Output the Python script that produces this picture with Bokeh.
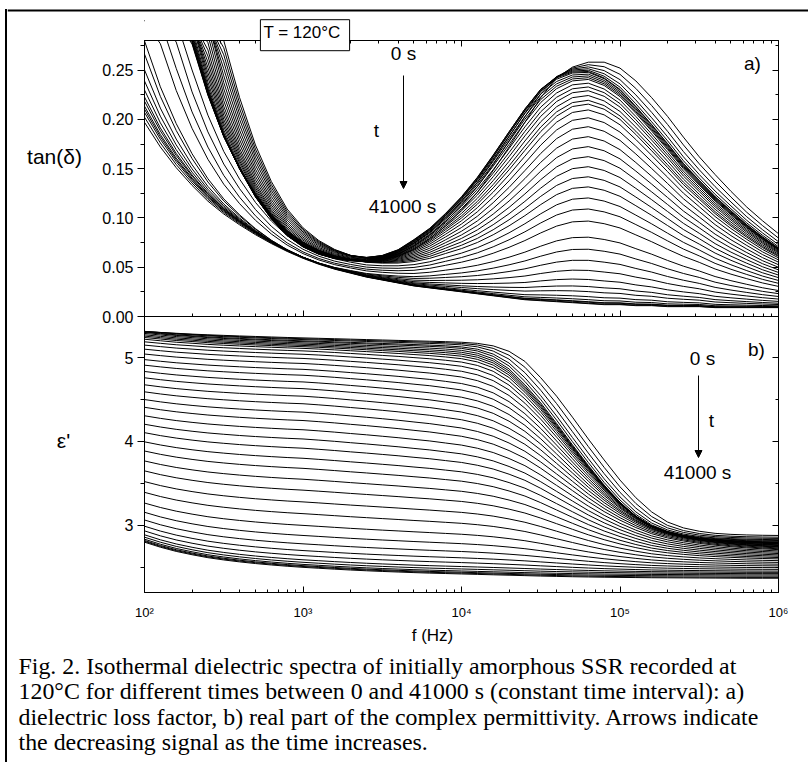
import numpy as np
from bokeh.plotting import figure
from bokeh.models import (Range1d, LinearAxis, LogAxis, SingleIntervalTicker, LogTicker,
                          Label, Arrow, NormalHead, CustomJSTickFormatter, PrintfTickFormatter,
                          Div, Spacer, BoxAnnotation, Span)
from bokeh.layouts import column, row
from bokeh.embed import file_html
from bokeh.resources import INLINE

# ---------------- data ----------------
LOG_F = [2.0, 2.1, 2.2, 2.3, 2.4, 2.5, 2.6, 2.7, 2.8, 2.9,
         3.0, 3.1, 3.2, 3.3, 3.4, 3.5, 3.6, 3.7, 3.8, 3.9,
         4.0, 4.1, 4.2, 4.3, 4.4, 4.5, 4.6, 4.7, 4.8, 4.9,
         5.0, 5.1, 5.2, 5.3, 5.4, 5.5, 5.6, 5.7, 5.8, 5.9,
         6.0, 6.1]

TAN_FINAL = [0.197, 0.172, 0.151, 0.133, 0.117, 0.104, 0.093, 0.083, 0.074, 0.066,
             0.059, 0.053, 0.048, 0.044, 0.040, 0.037, 0.034, 0.031, 0.029, 0.027,
             0.025, 0.023, 0.021, 0.019, 0.017, 0.016, 0.015, 0.014, 0.013, 0.012,
             0.012, 0.011, 0.011, 0.010, 0.010, 0.010, 0.009, 0.009, 0.009, 0.009,
             0.009, 0.009]
TAN_COND_INIT = [0.935, 0.735, 0.578, 0.454, 0.357, 0.279, 0.2205, 0.172, 0.134, 0.105,
                 0.085, 0.070, 0.059, 0.050, 0.043, 0.037, 0.032, 0.028, 0.024, 0.021,
                 0.018, 0.015, 0.013, 0.011, 0.009, 0.008, 0.007, 0.006, 0.005, 0.004,
                 0.004, 0.003, 0.003, 0.003, 0.002, 0.002, 0.002, 0.002, 0.001, 0.001,
                 0.001, 0.001]
TAN_PEAK_INIT = [0.000, 0.000, 0.0005, 0.0007, 0.001, 0.001, 0.0015, 0.002, 0.003, 0.004,
                 0.005, 0.007, 0.009, 0.012, 0.016, 0.021, 0.029, 0.040, 0.055, 0.071,
                 0.090, 0.111, 0.135, 0.161, 0.188, 0.214, 0.235, 0.247, 0.253, 0.254,
                 0.248, 0.236, 0.219, 0.200, 0.180, 0.160, 0.142, 0.125, 0.110, 0.096,
                 0.083, 0.071]
TAN_PEAK_LATE = [0.000, 0.000, 0.005, 0.008, 0.012, 0.016, 0.021, 0.027, 0.034, 0.042,
                 0.050, 0.064, 0.080, 0.100, 0.120, 0.148, 0.180, 0.220, 0.270, 0.330,
                 0.390, 0.460, 0.540, 0.630, 0.730, 0.830, 0.920, 0.980, 1.000, 0.980,
                 0.930, 0.860, 0.780, 0.700, 0.620, 0.550, 0.480, 0.420, 0.370, 0.320,
                 0.280, 0.240]

EPS_INIT = [5.310, 5.300, 5.290, 5.280, 5.272, 5.265, 5.258, 5.252, 5.246, 5.240,
            5.235, 5.230, 5.225, 5.220, 5.215, 5.210, 5.205, 5.200, 5.195, 5.190,
            5.183, 5.170, 5.140, 5.075, 4.955, 4.760, 4.540, 4.290, 4.030, 3.780,
            3.540, 3.330, 3.160, 3.040, 2.970, 2.930, 2.905, 2.893, 2.886, 2.882,
            2.880, 2.878]
EPS_FINAL = [2.800, 2.740, 2.690, 2.650, 2.615, 2.588, 2.565, 2.545, 2.528, 2.513,
             2.500, 2.489, 2.478, 2.468, 2.459, 2.451, 2.444, 2.437, 2.431, 2.426,
             2.421, 2.416, 2.411, 2.406, 2.401, 2.396, 2.392, 2.388, 2.385, 2.382,
             2.380, 2.378, 2.376, 2.375, 2.374, 2.373, 2.372, 2.371, 2.370, 2.370,
             2.370, 2.370]
EPS_STEP_LATE = [0.899, 0.921, 0.939, 0.953, 0.965, 0.974, 0.981, 0.987, 0.992, 0.996,
                 1.000, 0.998, 0.995, 0.990, 0.985, 0.978, 0.970, 0.960, 0.950, 0.935,
                 0.920, 0.895, 0.860, 0.810, 0.750, 0.670, 0.580, 0.490, 0.400, 0.320,
                 0.250, 0.190, 0.140, 0.105, 0.080, 0.060, 0.045, 0.033, 0.023, 0.015,
                 0.008, 0.003]

TIMES_S = [1000 * k for k in range(42)]
TAN_AT_50KHZ = [0.253, 0.252, 0.251, 0.250, 0.249, 0.248, 0.247, 0.245, 0.243, 0.241,
                0.239, 0.235, 0.231, 0.227, 0.222, 0.217, 0.213, 0.207, 0.199, 0.190,
                0.180, 0.170, 0.160, 0.150, 0.140, 0.130, 0.119, 0.108, 0.096, 0.080,
                0.068, 0.057, 0.047, 0.038, 0.031, 0.026, 0.021, 0.018, 0.016, 0.0155,
                0.0145, 0.014]
COND_LEVEL = [1.000, 0.969, 0.939, 0.910, 0.882, 0.854, 0.828, 0.802, 0.777, 0.753,
              0.730, 0.707, 0.685, 0.664, 0.643, 0.623, 0.604, 0.585, 0.567, 0.550,
              0.533, 0.516, 0.500, 0.485, 0.470, 0.455, 0.384, 0.322, 0.263, 0.207,
              0.136, 0.112, 0.086, 0.066, 0.050, 0.038, 0.029, 0.021, 0.016, 0.012,
              0.006, 0.000]
PEAK_SHIFT = [0.0, 0.3, 0.55, 0.75, 0.9, 1.0, 1.0, 1.0, 1.0, 1.0,
              1.0, 1.0, 1.0, 1.0, 1.0, 1.0, 1.0, 1.0, 1.0, 1.0,
              1.0, 1.0, 1.0, 1.0, 1.0, 1.0, 1.0, 1.0, 1.0, 1.0,
              1.0, 1.0, 1.0, 1.0, 1.0, 1.0, 1.0, 1.0, 1.0, 1.0,
              1.0, 1.0]
BROADENING = [0.00, 0.00, 0.02, 0.05, 0.08, 0.12, 0.16, 0.20, 0.25, 0.30,
              0.36, 0.42, 0.48, 0.54, 0.60, 0.66, 0.72, 0.78, 0.83, 0.88,
              0.92, 0.96, 0.98, 1.00, 1.00, 1.00, 1.00, 1.00, 1.00, 1.00,
              1.00, 1.00, 1.00, 1.00, 1.00, 1.00, 1.00, 1.00, 1.00, 1.00,
              1.00, 1.00]
EPS_AT_1KHZ = [5.235, 5.225, 5.215, 5.200, 5.190, 5.175, 5.160, 5.145, 5.130, 5.110,
               5.080, 5.040, 4.990, 4.930, 4.860, 4.790, 4.710, 4.630, 4.540, 4.450,
               4.350, 4.250, 4.140, 4.030, 3.920, 3.800, 3.680, 3.550, 3.420, 3.280,
               3.140, 3.000, 2.880, 2.780, 2.700, 2.640, 2.590, 2.560, 2.535, 2.520,
               2.510, 2.500]
EPS_AT_1MHZ = [2.880, 2.860, 2.845, 2.830, 2.820, 2.810, 2.800, 2.795, 2.790, 2.785,
               2.780, 2.775, 2.770, 2.760, 2.755, 2.750, 2.740, 2.735, 2.730, 2.720,
               2.710, 2.700, 2.685, 2.670, 2.655, 2.640, 2.625, 2.610, 2.595, 2.575,
               2.555, 2.535, 2.515, 2.495, 2.475, 2.455, 2.440, 2.425, 2.410, 2.395,
               2.380, 2.370]

X_TICK_LABELS = {2: "10\u00b2", 3: "10\u00b3", 4: "10\u2074", 5: "10\u2075", 6: "10\u2076"}
CAPTION = ["Fig. 2. Isothermal dielectric spectra of initially amorphous SSR recorded at",
           "120\u00b0C for different times between 0 and 41000 s (constant time interval): a)",
           "dielectric loss factor, b) real part of the complex permittivity. Arrows indicate",
           "the decreasing signal as the time increases."]

for arr in (TAN_FINAL, TAN_COND_INIT, TAN_PEAK_INIT, TAN_PEAK_LATE, EPS_INIT, EPS_FINAL, EPS_STEP_LATE):
    assert len(arr) == len(LOG_F)
for arr in (TAN_AT_50KHZ, COND_LEVEL, PEAK_SHIFT, BROADENING, EPS_AT_1KHZ, EPS_AT_1MHZ):
    assert len(arr) == len(TIMES_S)

# ---------------- geometry (page pixels) ----------------
FX0, FX1 = 144, 778                 # panel left / right
FY_TOP, FY_MID, FY_BOT = 40, 316, 592
TAN_RANGE = (0.0, 0.28)
EPS_RANGE = (2.2, 5.49)
CX0, CY0 = 7, 0                     # canvas origin on the page
CX1, CY1 = 808, 762
FIG_W, FIG_H = CX1 - CX0, CY1 - CY0


def fx(px):
    return 10 ** (2 + 4 * (px - FX0) / (FX1 - FX0))


def fy_tan(py):
    return TAN_RANGE[0] + (TAN_RANGE[1] - TAN_RANGE[0]) * (FY_MID - py) / (FY_MID - FY_TOP)


def fy_eps(py):
    return EPS_RANGE[0] + (EPS_RANGE[1] - EPS_RANGE[0]) * (FY_BOT - py) / (FY_BOT - FY_MID)


# ---------------- build the curve family ----------------
N = len(LOG_F) - 1
freq = 10 ** np.array(LOG_F[:N])
tf = np.array(TAN_FINAL); tc = np.array(TAN_COND_INIT); tp = np.array(TAN_PEAK_INIT)
tl = np.array(TAN_PEAK_LATE) * tp.max()
ei = np.array(EPS_INIT); ef = np.array(EPS_FINAL); el = np.array(EPS_STEP_LATE)
i50k = LOG_F.index(4.7); i1k = LOG_F.index(3.0); i1M = LOG_F.index(6.0)

d_all = ei - ef
d_hf = d_all[i1M]
step = (d_all - d_hf) / (d_all[i1k] - d_hf)
F = tf[:N]; C = tc[:N]
tan_cap = fy_tan(20)      # values beyond the top of panel a) end under the white mask

tan_xs, tan_ys, eps_xs, eps_ys = [], [], [], []
for v, c, m, b, e1k, e1m in zip(TAN_AT_50KHZ, COND_LEVEL, PEAK_SHIFT, BROADENING,
                                EPS_AT_1KHZ, EPS_AT_1MHZ):
    pk = (1 - b) * ((1 - m) * tp[:N] + m * tp[1:N + 1]) + b * tl[:N]
    frac = (v - F[i50k] - c * C[i50k]) / (pk[i50k] - F[i50k])
    frac = min(max(frac, 0.0), 1.05)
    tan_xs.append(freq)
    tan_ys.append(np.minimum((1 - frac) * F + frac * pk + c * C, tan_cap))

    sk = (1 - b) * ((1 - m) * step[:N] + m * step[1:N + 1]) + b * el[:N]
    h = (e1m - ef[i1M]) / d_hf
    amp = (e1k - ef[i1k] - h * d_hf) / sk[i1k]
    eps_xs.append(freq)
    eps_ys.append(ef[:N] + h * d_hf + amp * sk)

SANS = "Liberation Sans"
SERIF = "Liberation Serif"
empty_fmt = CustomJSTickFormatter(code="return '';")
log_fmt = CustomJSTickFormatter(args=dict(labels={str(k): v for k, v in X_TICK_LABELS.items()}),
                                code="const e = Math.round(Math.log10(tick)); return labels[String(e)] || '';")

# the plotting frame covers the whole canvas; the two panels are drawn with fixed-location axes
p = figure(width=FIG_W, height=FIG_H, x_axis_type="log", title=None,
           x_range=Range1d(fx(CX0), fx(CX1)), y_range=Range1d(fy_eps(CY1), fy_eps(CY0)),
           output_backend="svg", toolbar_location=None,
           x_axis_location=None, y_axis_location=None,
           min_border_left=0, min_border_right=0, min_border_top=0, min_border_bottom=0)
p.extra_y_ranges = {"tan": Range1d(fy_tan(CY1), fy_tan(CY0))}
p.grid.grid_line_color = None
p.outline_line_color = None
p.background_fill_color = "white"
p.border_fill_color = "white"


def style_axis(ax, inward, labels=True, size="16px"):
    ax.axis_line_color = "black"
    ax.axis_line_width = 1
    ax.major_tick_line_color = "black"
    ax.minor_tick_line_color = "black"
    if inward:
        ax.major_tick_in, ax.major_tick_out = 6, 0
        ax.minor_tick_in, ax.minor_tick_out = 3, 0
    else:
        ax.major_tick_in, ax.major_tick_out = 0, 7
        ax.minor_tick_in, ax.minor_tick_out = 0, 4
    ax.major_label_text_font = SANS
    ax.major_label_text_font_size = size
    ax.major_label_text_color = "black"
    if labels:
        ax.major_label_standoff = 4
    else:
        ax.formatter = empty_fmt
        ax.major_label_standoff = 0


X_BOUNDS = (1e2, 1e6)
# y axes
ax = LinearAxis(y_range_name="tan", bounds=TAN_RANGE, fixed_location=X_BOUNDS[0],
                ticker=SingleIntervalTicker(interval=0.05, num_minor_ticks=2),
                formatter=PrintfTickFormatter(format="%.2f"))
style_axis(ax, inward=False)
p.add_layout(ax, "left")
ax = LinearAxis(bounds=EPS_RANGE, fixed_location=X_BOUNDS[0],
                ticker=SingleIntervalTicker(interval=1, num_minor_ticks=2),
                formatter=PrintfTickFormatter(format="%d"))
style_axis(ax, inward=False)
p.add_layout(ax, "left")
ax = LinearAxis(y_range_name="tan", bounds=TAN_RANGE, fixed_location=X_BOUNDS[1],
                ticker=SingleIntervalTicker(interval=0.05, num_minor_ticks=2))
style_axis(ax, inward=True, labels=False)
p.add_layout(ax, "right")
ax = LinearAxis(bounds=EPS_RANGE, fixed_location=X_BOUNDS[1],
                ticker=SingleIntervalTicker(interval=1, num_minor_ticks=2))
style_axis(ax, inward=True, labels=False)
p.add_layout(ax, "right")
# x axes
ax = LogAxis(ticker=LogTicker(num_minor_ticks=10), formatter=log_fmt, bounds=X_BOUNDS,
             fixed_location=EPS_RANGE[0])
style_axis(ax, inward=True, size="13px")
ax.major_label_standoff = 12
p.add_layout(ax, "below")
ax = LogAxis(ticker=LogTicker(num_minor_ticks=10), bounds=X_BOUNDS, fixed_location=EPS_RANGE[1])
style_axis(ax, inward=True, labels=False)
p.add_layout(ax, "below")
ax = LogAxis(ticker=LogTicker(num_minor_ticks=10), bounds=X_BOUNDS, y_range_name="tan",
             fixed_location=TAN_RANGE[1])
style_axis(ax, inward=True, labels=False)
p.add_layout(ax, "above")

# curves
p.multi_line(tan_xs, tan_ys, y_range_name="tan", line_color="black", line_width=1)
p.multi_line(eps_xs, eps_ys, line_color="black", line_width=1)

# hide the parts of the loss curves above the upper panel
p.add_layout(BoxAnnotation(left=X_BOUNDS[0], right=X_BOUNDS[1],
                           bottom=fy_eps(FY_TOP - 0.6), top=fy_eps(CY0 - 60),
                           fill_color="white", fill_alpha=1.0, line_color=None))
# top edge of the page frame
p.add_layout(Span(location=fy_eps(10), dimension="width", line_color="black", line_width=2))


def label(px, py, text, size, font=SANS, align="center", baseline="middle", **kw):
    p.add_layout(Label(x=fx(px), y=fy_eps(py), text=text, text_font=font, text_font_size=size,
                       text_align=align, text_baseline=baseline, text_color="black", **kw))


def arrow(px, py0, py1):
    p.add_layout(Arrow(end=NormalHead(size=7, fill_color="black", line_color="black"),
                       x_start=fx(px), y_start=fy_eps(py0), x_end=fx(px), y_end=fy_eps(py1),
                       line_color="black", line_width=1))


# upper panel annotations
label(304.5, 34.7, "T = 120\u00b0C", "17px",
      background_fill_color="white", border_line_color="black", border_line_width=1,
      padding=(3, 9, 3, 9))
label(403, 53, "0 s", "19px")
label(376, 130, "t", "19px")
label(402, 206, "41000 s", "19px")
label(752, 63, "a)", "19px")
arrow(403, 75, 188)
# lower panel annotations
label(756, 349, "b)", "19px")
label(702, 358, "0 s", "19px")
label(711, 420, "t", "19px")
label(697, 472, "41000 s", "19px")
arrow(698, 375, 457)
# axis titles
label(54, 156, "tan(\u03b4)", "21px")
label(63, 440, "\u03b5'", "21px")
label(432, 635, "f (Hz)", "17px")
# caption
for i, line in enumerate(CAPTION):
    label(18, 665 + 25.5 * i, line, "23.9px", font=SERIF, align="left")

# ---------------- left edge of the page frame ----------------
left_col = column(Spacer(width=2, height=9, margin=(0, 0, 0, 0)),
                  Div(text="", width=2, height=753, margin=(0, 0, 0, 0),
                      styles={"background-color": "black"}),
                  spacing=0)
layout = row(Spacer(width=5, height=762, margin=(0, 0, 0, 0)), left_col, p, spacing=0)

open("out.html", "w").write(file_html(layout, INLINE))
